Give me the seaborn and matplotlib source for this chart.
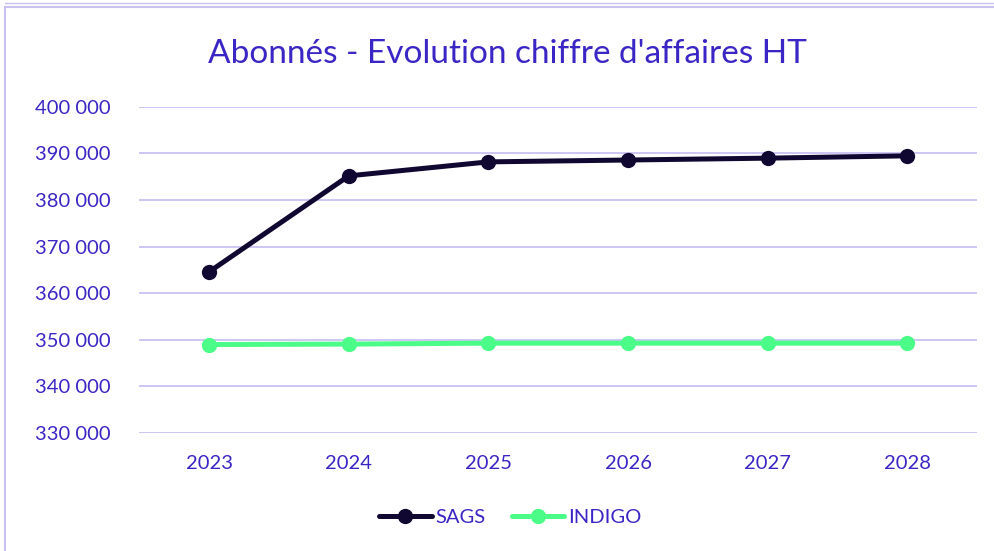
import matplotlib
matplotlib.use("Agg")
import matplotlib.pyplot as plt
import matplotlib.lines as mlines
import matplotlib.ticker as mticker
import pandas as pd
import seaborn as sns

# data
years = ["2023", "2024", "2025", "2026", "2027", "2028"]
sags = [364600, 385200, 388200, 388600, 389000, 389500]
indigo = [349000, 349100, 349300, 349300, 349300, 349300]

series_names = ["SAGS", "INDIGO"]
series_colors = ["#100830", "#4CFC88"]
text_color = "#3A26C4"
grid_color = "#C9C1F2"

df = pd.DataFrame({
    "year": years * 2,
    "value": sags + indigo,
    "serie": ["SAGS"] * len(years) + ["INDIGO"] * len(years),
})

sns.set_style("white")
plt.rcParams["font.family"] = ["Lato", "DejaVu Sans"]

fig = plt.figure(figsize=(9.95, 5.51), dpi=100)
ax = fig.add_axes([0.140, 0.214, 0.842, 0.592])

sns.lineplot(data=df, x="year", y="value", hue="serie", hue_order=series_names,
             palette=series_colors, marker="o", markersize=11, linewidth=3.6,
             markeredgewidth=0, sort=False, legend=False, ax=ax)

ax.set_ylim(330000, 400000)
ax.set_xlim(-0.5, len(years) - 0.5)
ax.yaxis.set_major_locator(mticker.MultipleLocator(10000))
ax.yaxis.set_major_formatter(mticker.FuncFormatter(lambda v, p: f"{int(v):,}".replace(",", " ")))
ax.grid(axis="y", color=grid_color, linewidth=1.3)
ax.set_axisbelow(True)
for s in ax.spines.values():
    s.set_visible(False)
ax.tick_params(axis="both", length=0, labelsize=14.5, labelcolor=text_color)
ax.tick_params(axis="y", pad=21)
ax.tick_params(axis="x", pad=16)
ax.set_xlabel("")
ax.set_ylabel("")

fig.suptitle("Abonnés - Evolution chiffre d'affaires HT", x=0.51, y=0.93,
             fontsize=24, color=text_color)

handles = [mlines.Line2D([], [], color=c, marker="o", markersize=11, linewidth=3.6,
                         markeredgewidth=0, solid_capstyle="round") for c in series_colors]
leg = fig.legend(handles, series_names, loc="center", bbox_to_anchor=(0.513, 0.06),
                 ncol=2, frameon=False, fontsize=14.5, handlelength=2.6,
                 handletextpad=0.2, columnspacing=1.3)
for t in leg.get_texts():
    t.set_color(text_color)

# light frame of the chart container
fig.add_artist(mlines.Line2D([0.005, 1.0], [0.987, 0.987], color=grid_color, linewidth=1.5,
                             transform=fig.transFigure))
fig.add_artist(mlines.Line2D([0.005, 1.0], [0.995, 0.995], color=grid_color, linewidth=1.0,
                             transform=fig.transFigure))
fig.add_artist(mlines.Line2D([0.0055, 0.0055], [0.0, 0.987], color=grid_color, linewidth=1.5,
                             transform=fig.transFigure))

fig.savefig("out.png", dpi=100)
